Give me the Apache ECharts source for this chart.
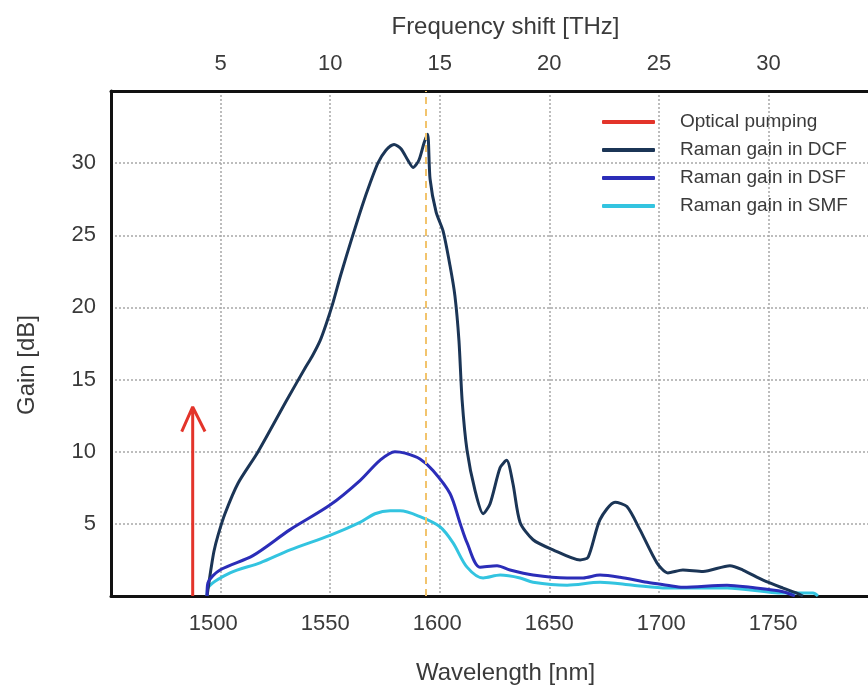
<!DOCTYPE html>
<html>
<head>
<meta charset="utf-8">
<title>Raman gain</title>
<script src="https://cdn.jsdelivr.net/npm/echarts@6/dist/echarts.min.js"></script>
<style>
	html, body{
		margin: 0;
		padding: 0;
		background: #ffffff;
	}
	#main{
		width: 868px;
		height: 688px;
	}
</style>
</head>
<body>
<div id="main"></div>
<script>
	// wavelength [nm] / gain [dB]
	var wlDCF   = [1497.2, 1498.1, 1499.0, 1500.3, 1502.1, 1505.2, 1511.0, 1520.0, 1532.9, 1541.0, 1544.1, 1547.7, 1550.3, 1553.4, 1557.0, 1561.9, 1566.4, 1570.0, 1573.5, 1577.1, 1580.7, 1583.8, 1586.9, 1589.2, 1591.8, 1594.1, 1595.7, 1596.8, 1599.5, 1602.6, 1605.7, 1607.9, 1609.7, 1611.1, 1613.3, 1616.9, 1620.5, 1623.6, 1628.1, 1631.0, 1633.8, 1637.0, 1642.8, 1651.7, 1663.8, 1667.4, 1672.7, 1679.4, 1684.7, 1690.5, 1698.1, 1703.0, 1709.7, 1718.7, 1730.7, 1736.5, 1745.5, 1754.4, 1760.6, 1763.3]
	var gainDCF = [0, 0.97, 1.9, 3.1, 4.2, 5.7, 7.8, 10.0, 13.6, 15.8, 16.6, 17.7, 18.8, 20.3, 22.3, 24.8, 27.0, 28.6, 30.0, 30.9, 31.3, 31.0, 30.2, 29.7, 30.2, 31.4, 32.0, 28.9, 26.6, 25.3, 22.9, 20.8, 17.7, 13.6, 10.1, 7.3, 5.7, 6.4, 8.9, 9.4, 7.8, 5.1, 3.9, 3.2, 2.5, 2.7, 5.3, 6.5, 6.2, 4.6, 2.3, 1.6, 1.8, 1.7, 2.1, 1.8, 1.1, 0.55, 0.2, 0]

	var wlDSF   = [1497.2, 1497.6, 1503.0, 1517.7, 1534.3, 1552.1, 1565.5, 1574.4, 1581.1, 1585.6, 1592.3, 1598.1, 1605.7, 1610.2, 1613.3, 1619.1, 1626.7, 1632.5, 1642.8, 1658.0, 1665.1, 1672.7, 1681.6, 1693.7, 1702.6, 1709.7, 1729.4, 1739.7, 1754.4, 1759.7]
	var gainDSF = [0, 0.9, 1.8, 2.8, 4.6, 6.3, 8.0, 9.4, 10.0, 9.9, 9.5, 8.7, 7.1, 5.05, 3.7, 2.0, 2.1, 1.8, 1.45, 1.25, 1.25, 1.45, 1.3, 0.95, 0.75, 0.6, 0.75, 0.6, 0.3, 0]

	var wlSMF   = [1497.2, 1497.6, 1507.5, 1520.9, 1534.3, 1552.1, 1565.5, 1572.2, 1579.0, 1583.4, 1592.3, 1601.2, 1607.0, 1613.3, 1620.5, 1628.1, 1637.0, 1642.8, 1658.0, 1672.7, 1687.4, 1702.6, 1729.4, 1754.4, 1767.8, 1770.0]
	var gainSMF = [0, 0.55, 1.6, 2.3, 3.2, 4.2, 5.1, 5.7, 5.9, 5.9, 5.5, 4.8, 3.7, 2.0, 1.25, 1.45, 1.25, 0.95, 0.75, 0.95, 0.75, 0.55, 0.55, 0.2, 0.2, 0]

	// pump arrow: shaft then open head
	var wlPump   = [1490.8, 1490.8, 1485.9, 1490.8, 1496.3]
	var gainPump = [0, 13.1, 11.4, 13.1, 11.4]

	var markerWl = 1595   // dashed orange line

	var wlLabels   = [1500, 1550, 1600, 1650, 1700, 1750]
	var seriesNames = ['Optical pumping', 'Raman gain in DCF', 'Raman gain in DSF', 'Raman gain in SMF']
	var seriesColors = ['#e3342a', '#1b3556', '#2b2db8', '#33c4e0']

	function pairs(xs, ys){
		return xs.map(function(x, i){ return [x, ys[i]] })
	}

	var font = 'Liberation Sans, Arial, sans-serif'
	var textColor = '#3a3a3a'
	var gridLine = {show: true, lineStyle: {color: '#a8a8a8', type: [2, 2], width: 1.5}}
	var plain = function(v){ return String(v) }

	var myChart = echarts.init(document.getElementById('main'), null, {renderer: 'canvas'})

	var option = {
		backgroundColor: '#ffffff',
		animation: false,
		color: seriesColors,
		textStyle: {fontFamily: font},
		grid: {
			left: 111,
			right: -32,   // box runs past the right edge of the picture
			top: 91,
			bottom: 92,
			outerBoundsMode: 'none',
		},
		legend: {
			orient: 'vertical',
			left: 597,
			top: 107,
			icon: 'roundRect',
			itemWidth: 53,
			itemHeight: 4,
			itemGap: 8,
			data: seriesNames,
			textStyle: {
				color: textColor,
				fontSize: 19,
				fontFamily: font,
				lineHeight: 20,
				padding: [0, 0, 0, 20],
			},
		},
		xAxis: [
			{
				// wavelength, bottom
				type: 'value',
				position: 'bottom',
				min: 1454.32,
				max: 1806.65,
				name: 'Wavelength [nm]',
				nameLocation: 'middle',
				nameGap: 65,
				nameTextStyle: {color: textColor, fontSize: 24, fontFamily: font},
				axisLine: {lineStyle: {color: '#111', width: 3}},
				axisTick: {show: false},
				splitLine: {show: false},
				axisLabel: {
					customValues: wlLabels,
					formatter: plain,
					color: textColor,
					fontSize: 22,
					margin: 17,
					fontFamily: font,
				},
			},
			{
				// frequency shift, top
				type: 'value',
				position: 'top',
				min: 0,
				max: 36,
				interval: 5,
				name: 'Frequency shift [THz]',
				nameLocation: 'middle',
				nameGap: 52,
				nameTextStyle: {color: textColor, fontSize: 24, fontFamily: font},
				axisLine: {lineStyle: {color: '#111', width: 3}},
				axisTick: {show: false},
				splitLine: gridLine,
				axisLabel: {
					showMinLabel: false,
					showMaxLabel: false,
					formatter: function(v){ return v > 30 ? '' : String(v) },
					color: textColor,
					fontSize: 22,
					margin: 16,
					fontFamily: font,
				},
			},
		],
		yAxis: {
			type: 'value',
			min: 0,
			max: 35,
			interval: 5,
			name: 'Gain [dB]',
			nameLocation: 'middle',
			nameGap: 72,
			nameTextStyle: {color: textColor, fontSize: 24, fontFamily: font, padding: [0, 43, 0, 0]},
			axisLine: {show: true, lineStyle: {color: '#111', width: 3}},
			axisTick: {show: false},
			splitLine: gridLine,
			axisLabel: {
				showMinLabel: false,
				showMaxLabel: false,
				color: textColor,
				fontSize: 22,
				margin: 15,
				fontFamily: font,
			},
		},
		series: [
			{
				name: seriesNames[0],
				type: 'line',
				symbol: 'none',
				lineStyle: {width: 3, color: seriesColors[0]},
				data: pairs(wlPump, gainPump),
				z: 4,
			},
			{
				name: seriesNames[1],
				type: 'line',
				symbol: 'none',
				smooth: 0.25,
				lineStyle: {width: 3, color: seriesColors[1]},
				data: pairs(wlDCF, gainDCF),
				markLine: {
					silent: true,
					symbol: 'none',
					label: {show: false},
					lineStyle: {color: '#f2c46d', type: [7, 5], width: 2},
					data: [{xAxis: markerWl}],
				},
				z: 3,
			},
			{
				name: seriesNames[2],
				type: 'line',
				symbol: 'none',
				smooth: 0.3,
				lineStyle: {width: 3, color: seriesColors[2]},
				data: pairs(wlDSF, gainDSF),
				z: 3,
			},
			{
				name: seriesNames[3],
				type: 'line',
				symbol: 'none',
				smooth: 0.3,
				lineStyle: {width: 3, color: seriesColors[3]},
				data: pairs(wlSMF, gainSMF),
				z: 2,
			},
		]
	}
	myChart.setOption(option, true)
</script>
</body>
</html>
